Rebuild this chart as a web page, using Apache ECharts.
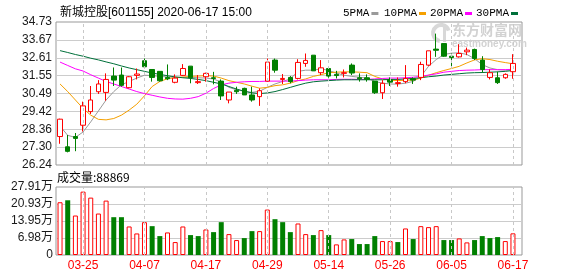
<!DOCTYPE html>
<html><head><meta charset="utf-8">
<script src="https://cdn.jsdelivr.net/npm/echarts@6/dist/echarts.min.js"></script>
<style>html,body{margin:0;padding:0;background:#fff}#c{width:578px;height:276px}</style>
</head><body><div id="c"></div><script>
const dates = ['03-20','03-23','03-24','03-25','03-26','03-27','03-30','03-31','04-01','04-02','04-03','04-07','04-08','04-09','04-10','04-13','04-14','04-15','04-16','04-17','04-20','04-21','04-22','04-23','04-24','04-27','04-28','04-29','04-30','05-06','05-07','05-08','05-11','05-12','05-13','05-14','05-15','05-18','05-19','05-20','05-21','05-22','05-25','05-26','05-27','05-28','05-29','06-01','06-02','06-03','06-04','06-05','06-08','06-09','06-10','06-11','06-12','06-15','06-16','06-17'];
const opens = [27.93,27.32,27.93,28.60,29.41,30.59,30.55,31.52,31.58,30.83,31.56,32.43,31.91,31.80,31.44,31.15,31.56,32.11,31.13,31.48,31.42,31.22,30.10,30.67,30.79,30.40,30.30,31.22,32.47,31.32,31.44,31.38,32.27,32.76,31.72,31.97,31.62,31.68,32.17,31.42,31.42,31.22,30.53,31.30,31.08,31.19,31.36,31.44,32.17,33.12,33.45,32.70,32.66,32.96,33.10,32.47,31.44,31.42,31.42,31.78];
const closes = [28.96,27.05,27.82,29.75,30.10,31.05,31.32,31.28,30.97,31.48,31.64,32.07,31.44,31.24,31.36,31.40,31.97,31.42,31.19,31.68,31.38,30.34,30.57,30.59,30.40,30.10,30.65,32.35,31.87,31.38,31.19,32.33,32.45,31.83,32.01,31.52,31.55,31.72,31.70,31.36,31.32,30.53,31.09,31.16,31.13,31.38,31.28,32.21,33.02,33.05,32.70,32.62,32.86,33.06,32.56,31.91,31.72,31.13,31.62,32.27];
const lows = [27.50,26.99,27.06,28.23,29.27,30.46,30.06,30.93,30.89,30.79,31.32,32.03,31.19,31.19,31.28,31.09,31.52,31.09,31.05,31.19,31.03,30.10,29.90,30.46,30.40,30.00,29.75,31.19,31.72,31.05,31.09,31.32,32.07,31.83,31.58,31.42,31.38,31.44,31.58,31.19,31.19,30.46,30.16,30.93,30.89,31.09,31.05,31.28,32.11,32.66,32.66,32.07,32.62,32.76,32.47,31.72,31.32,31.05,31.36,31.36];
const highs = [28.99,28.02,28.14,30.00,30.93,31.28,31.68,32.03,32.03,31.52,31.97,32.56,31.91,31.80,32.21,31.62,32.23,32.11,31.58,31.72,31.77,31.32,30.57,30.89,30.83,30.89,30.79,32.56,32.56,31.64,31.52,32.52,32.86,32.76,32.47,31.97,31.83,31.91,32.27,31.68,31.62,31.22,31.28,31.44,31.44,32.17,31.44,32.37,33.02,34.04,33.45,32.86,33.41,33.21,33.15,32.70,31.91,31.78,31.68,32.82];
const volumes = [216500,224600,162000,260000,235500,170200,223300,155200,155200,117100,88500,134800,118400,77600,92600,53100,117100,81700,77600,104800,93900,134800,85800,61300,69400,98000,98000,186500,147000,134800,93900,129300,85800,81700,102100,81700,43600,64000,65400,44900,44900,77600,57200,57200,53100,108900,65400,118400,114400,118400,61300,61300,68100,51700,61300,77600,69400,73500,57200,88869];
const ma5 = [28.55,28.00,27.88,28.20,28.80,29.45,30.10,30.60,31.00,31.20,31.40,31.57,31.55,31.50,31.47,31.45,31.44,31.44,31.42,31.40,31.35,31.15,30.85,30.70,30.62,30.55,30.62,30.85,31.05,31.20,31.35,31.80,31.87,31.87,31.95,31.85,31.70,31.57,31.50,31.45,31.40,31.20,31.10,31.05,31.04,31.10,31.20,31.50,32.10,32.50,32.80,32.88,32.90,32.80,32.55,32.20,32.00,31.90,31.87,31.87];
const ma10 = [31.05,30.60,30.10,29.60,29.20,28.95,28.92,29.00,29.20,29.50,29.85,30.35,30.90,31.20,31.36,31.42,31.46,31.50,31.52,31.55,31.52,31.40,31.25,31.15,31.05,30.92,30.80,30.85,30.95,31.00,31.10,31.25,31.35,31.50,31.60,31.72,31.75,31.77,31.77,31.75,31.72,31.50,31.35,31.27,31.25,31.27,31.28,31.40,31.57,31.72,31.85,31.97,32.10,32.30,32.48,32.55,32.50,32.40,32.32,32.25];
const ma20 = [32.35,32.15,31.95,31.82,31.60,31.40,31.20,31.05,30.90,30.75,30.60,30.48,30.38,30.28,30.20,30.16,30.15,30.20,30.30,30.50,30.78,31.00,31.10,31.15,31.18,31.20,31.20,31.22,31.22,31.22,31.22,31.25,31.28,31.30,31.30,31.30,31.32,31.33,31.33,31.32,31.32,31.35,31.38,31.40,31.40,31.42,31.45,31.50,31.58,31.65,31.75,31.80,31.85,31.87,31.88,31.90,31.90,31.90,31.90,31.92];
const ma30 = [33.03,32.92,32.80,32.70,32.58,32.48,32.36,32.25,32.12,32.00,31.90,31.80,31.70,31.62,31.54,31.47,31.42,31.38,31.32,31.25,31.15,31.05,30.90,30.75,30.62,30.52,30.48,30.52,30.60,30.72,30.85,30.98,31.10,31.18,31.22,31.25,31.28,31.30,31.30,31.30,31.30,31.30,31.30,31.32,31.32,31.35,31.38,31.42,31.48,31.52,31.58,31.62,31.66,31.70,31.72,31.73,31.75,31.77,31.80,31.85];
const priceTicks = ['26.24','27.30','28.36','29.42','30.49','31.55','32.61','33.67','34.73'];
const volTicks = ['0','6.98万','13.95万','20.93万','27.91万'];
const volMax = 279100;
const labelDates = ['03-25','04-07','04-17','04-29','05-14','05-26','06-05','06-17'];
const maNames = ['5PMA','10PMA','20PMA','30PMA'];
const maColors = ['#9a9a9a','#f5a000','#ff00ff','#00703a'];

const RED='#ff0000', GREEN='#008000';
const F = '"Liberation Sans","Noto Sans CJK SC",sans-serif';
const chart = echarts.init(document.getElementById('c'), null, {renderer:'canvas'});

const candleData = opens.map((o,i)=>[o, closes[i], lows[i], highs[i]]);
const volData = volumes.map((v,i)=>{
  const up = i===0 ? true : closes[i] >= closes[i-1];
  return {value:v, itemStyle: up ? {color:'#ffffff', borderColor:RED, borderWidth:1} : {color:GREEN, borderColor:GREEN, borderWidth:0}};
});
const vLines = labelDates.map(d=>({xAxis:d}));
const mkLine = {silent:true, symbol:['none','none'], label:{show:false}, animation:false,
  lineStyle:{color:'#c8c8c8', type:[3,3], width:1}, data:vLines};

const L=56.2, W=460.6;
const frameAxisY = (n, labels, margin) => ({
  type:'value', min:0, max:n, interval:1,
  axisLine:{show:false}, axisTick:{show:false},
  axisLabel:{margin:margin, color:'#1a1a1a', fontSize:12, fontFamily:F, formatter:(v)=>labels[Math.round(v)]},
  splitLine:{show:true, showMinLine:false, showMaxLine:false, lineStyle:{color:'#cccccc', width:1}}
});

const maSeries = [ma5,ma10,ma20,ma30].map((d,k)=>({
  name:maNames[k], type:'line', xAxisIndex:2, yAxisIndex:2, data:d, color:maColors[k],
  symbol:'none', showSymbol:false, lineStyle:{width:1, color:maColors[k]}, z:3
}));

const legendLefts = [338, 379, 425, 471];
const legends = maNames.map((n,k)=>({
  data:[n], left:legendLefts[k], top:3, align:'right', icon:'rect', itemWidth:7, itemHeight:3,
  textStyle:{fontSize:11, color:'#000', fontFamily:'"Liberation Mono",monospace', padding:[0,-3,0,0]}
}));

chart.setOption({
  animation:false,
  backgroundColor:'#ffffff',
  title:{text:'新城控股[601155] 2020-06-17 15:00', left:55, top:2,
    textStyle:{fontSize:12, fontWeight:'normal', color:'#000', fontFamily:F}},
  legend:legends,
  graphic:[
    {type:'arc', z:0, shape:{cx:441, cy:33, r:8, startAngle:Math.PI*0.55, endAngle:Math.PI*1.9}, style:{stroke:'#d8d8d8', lineWidth:4, fill:null}},
    {type:'rect', z:0, shape:{x:443, y:24, width:3, height:18}, style:{fill:'#d8d8d8'}},
    {type:'text', left:452, top:23, z:0, style:{text:'东方财富网', fontSize:14, fontWeight:'bold', fill:'#d2d2d2', fontFamily:'"Noto Sans CJK SC",sans-serif'}},
    {type:'text', left:452, top:39, z:0, style:{text:'eastmoney.com', fontSize:10, fontWeight:'bold', fill:'#d2d2d2', fontFamily:F}},
    {type:'text', left:57, top:171, style:{text:'成交量:' + volumes[volumes.length-1], fontSize:12, fill:'#000', fontFamily:'"Noto Sans CJK SC",sans-serif'}}
  ],
  grid:[
    {left:56, right:56, top:22, height:143, show:true, borderColor:'#999999', borderWidth:1, backgroundColor:'transparent'},
    {left:56, right:56, top:187, height:68, show:true, borderColor:'#999999', borderWidth:1, backgroundColor:'transparent'},
    {left:L, width:W, top:22, height:143},
    {left:L, width:W, top:187, height:68}
  ],
  xAxis:[
    {type:'value', gridIndex:0, min:0, max:1, show:false},
    {type:'value', gridIndex:1, min:0, max:1, show:false},
    {type:'category', gridIndex:2, data:dates, boundaryGap:true, show:false},
    {type:'category', gridIndex:3, data:dates, boundaryGap:true,
      axisLine:{show:false}, axisTick:{show:false}, splitLine:{show:false},
      axisLabel:{interval:(i)=>labelDates.indexOf(dates[i])>=0, color:'#ff0000', fontSize:12, margin:5, fontFamily:F}}
  ],
  yAxis:[
    Object.assign({gridIndex:0}, frameAxisY(priceTicks.length-1, priceTicks, 4)),
    Object.assign({gridIndex:1}, frameAxisY(volTicks.length-1, volTicks, 3)),
    {type:'value', gridIndex:2, min:parseFloat(priceTicks[0]), max:parseFloat(priceTicks[priceTicks.length-1]), show:false, scale:true},
    {type:'value', gridIndex:3, min:0, max:volMax, show:false}
  ],
  series:[
    {type:'candlestick', name:'K', xAxisIndex:2, yAxisIndex:2, data:candleData, barWidth:5, z:4,
      itemStyle:{color:'#ffffff', color0:GREEN, borderColor:RED, borderColor0:GREEN, borderWidth:1},
      markLine:mkLine},
    ...maSeries,
    {type:'bar', name:'VOL', xAxisIndex:3, yAxisIndex:3, data:volData, barWidth:5, z:4, markLine:mkLine}
  ]
});
</script></body></html>
